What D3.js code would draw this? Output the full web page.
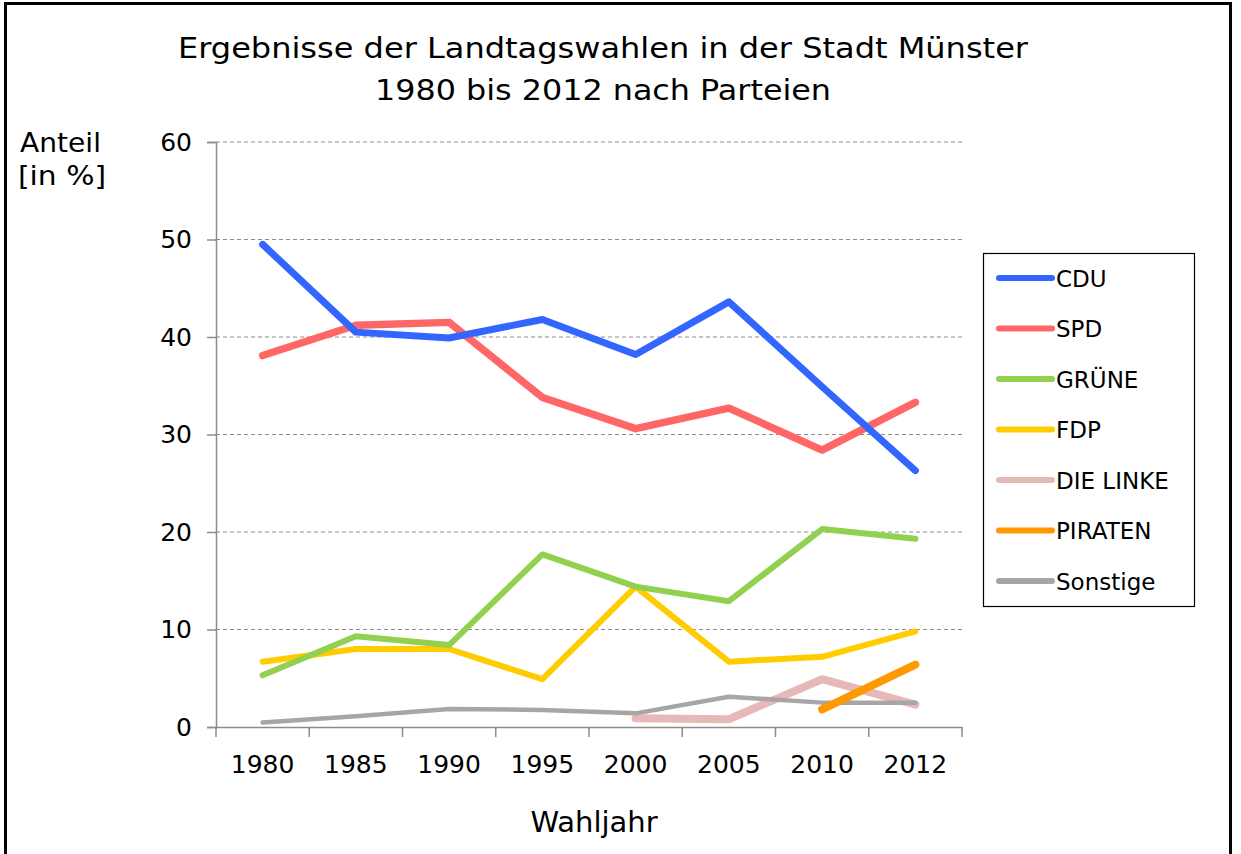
<!DOCTYPE html>
<html><head><meta charset="utf-8">
<script src="https://cdn.jsdelivr.net/npm/d3@7"></script>
<style>body{margin:0;background:#fff}svg{display:block}text{font-family:"DejaVu Sans",Verdana,sans-serif;fill:#000}</style>
</head><body>
<script>
const years = ["1980","1985","1990","1995","2000","2005","2010","2012"];
const cdu      = [49.5, 40.5, 39.9, 41.8, 38.2, 43.6, 34.9, 26.3];
const spd      = [38.1, 41.2, 41.5, 33.8, 30.6, 32.7, 28.4, 33.3];
const gruene   = [5.3, 9.3, 8.4, 17.7, 14.4, 12.9, 20.3, 19.3];
const fdp      = [6.7, 8.0, 8.0, 4.9, 14.4, 6.7, 7.2, 9.8];
const linke    = [null, null, null, null, 0.9, 0.8, 4.9, 2.3];
const piraten  = [null, null, null, null, null, null, 1.8, 6.4];
const sonstige = [0.45, 1.1, 1.85, 1.75, 1.4, 3.1, 2.5, 2.5];
const yTicks = [0, 10, 20, 30, 40, 50, 60];

const series = [
  {name:"CDU", values:cdu, color:"#3366ff", w:7},
  {name:"SPD", values:spd, color:"#ff6666", w:7.5},
  {name:"GRÜNE", values:gruene, color:"#92d050", w:6},
  {name:"FDP", values:fdp, color:"#ffcc00", w:6},
  {name:"DIE LINKE", values:linke, color:"#e6b9b8", w:8},
  {name:"PIRATEN", values:piraten, color:"#ff9900", w:8},
  {name:"Sonstige", values:sonstige, color:"#a6a6a6", w:4.5}
];

(function(){
const W = 1241, H = 854;
const svg = d3.select("body").append("svg").attr("width", W).attr("height", H);

// outer frame
svg.append("path").attr("d", `M5.5,${H} V3.5 H1230.5 V${H}`).attr("fill","none").attr("stroke","#000").attr("stroke-width",3);

const pL = 216, pR = 962, pT = 142, pB = 727;
const x = d3.scaleBand().domain(years).range([pL, pR]);
const y = d3.scaleLinear().domain([0, 60]).range([pB, pT]);

// title
svg.append("text").attr("x", 603).attr("y", 58).attr("text-anchor","middle").attr("font-size",29).attr("textLength",850).attr("lengthAdjust","spacingAndGlyphs").text("Ergebnisse der Landtagswahlen in der Stadt Münster");
svg.append("text").attr("x", 603).attr("y", 100).attr("text-anchor","middle").attr("font-size",29).attr("textLength",456).attr("lengthAdjust","spacingAndGlyphs").text("1980 bis 2012 nach Parteien");

// gridlines
svg.append("g").selectAll("line").data(yTicks.filter(d => d > 0)).join("line")
  .attr("x1", pL).attr("x2", pR).attr("y1", d => y(d)).attr("y2", d => y(d))
  .attr("stroke","#8c8c8c").attr("stroke-width",1).attr("stroke-dasharray","4,3");

// y axis
const yAxis = svg.append("g").attr("transform", `translate(${pL},0)`)
  .call(d3.axisLeft(y).tickValues(yTicks).tickSize(9).tickPadding(15));
yAxis.select(".domain").attr("stroke","#8c8c8c").attr("stroke-width",1.5);
yAxis.selectAll(".tick line").attr("stroke","#8c8c8c").attr("stroke-width",1.5);
yAxis.selectAll("text").attr("font-size",25).attr("font-family","DejaVu Sans, sans-serif").attr("fill","#000");

// x axis
const xAxis = svg.append("g").attr("transform", `translate(0,${pB})`)
  .call(d3.axisBottom(x).tickSize(0).tickPadding(28));
xAxis.select(".domain").attr("stroke","#8c8c8c").attr("stroke-width",1.5);
xAxis.selectAll("text").attr("font-size",25).attr("font-family","DejaVu Sans, sans-serif").attr("fill","#000");
svg.append("g").selectAll("line").data(years.concat(["end"])).join("line")
  .attr("x1", (d,i) => pL + i * x.step()).attr("x2", (d,i) => pL + i * x.step())
  .attr("y1", pB).attr("y2", pB + 10)
  .attr("stroke","#8c8c8c").attr("stroke-width",1.5);

// axis titles
svg.append("text").attr("x", 20).attr("y", 152).attr("font-size",27).attr("textLength",81).attr("lengthAdjust","spacingAndGlyphs").text("Anteil");
svg.append("text").attr("x", 18).attr("y", 185).attr("font-size",27).attr("textLength",88).attr("lengthAdjust","spacingAndGlyphs").text("[in %]");
svg.append("text").attr("x", 594).attr("y", 832).attr("text-anchor","middle").attr("font-size",29).text("Wahljahr");

// lines
const line = d3.line()
  .defined(d => d.v != null)
  .x(d => x(d.year) + x.bandwidth()/2)
  .y(d => y(d.v));
const order = [4, 6, 5, 3, 2, 1, 0];
svg.append("g").selectAll("path").data(order.map(i => series[i])).join("path")
  .attr("d", s => line(years.map((yr, i) => ({year: yr, v: s.values[i]}))))
  .attr("fill","none").attr("stroke", s => s.color).attr("stroke-width", s => s.w)
  .attr("stroke-linejoin","round").attr("stroke-linecap","round");

// legend
const lg = svg.append("g");
lg.append("rect").attr("x", 983.5).attr("y", 253.5).attr("width", 211).attr("height", 353)
  .attr("fill","#fff").attr("stroke","#000").attr("stroke-width",1.2);
const items = lg.selectAll("g.item").data(series).join("g").attr("class","item")
  .attr("transform", (d,i) => `translate(0,${278 + i*50.5})`);
items.append("line").attr("x1", 999).attr("x2", 1052).attr("y1",0).attr("y2",0)
  .attr("stroke", d => d.color).attr("stroke-width", 6).attr("stroke-linecap","round");
items.append("text").attr("x", 1056).attr("y", 8.5).attr("font-size",23).text(d => d.name);
})();
</script>
</body></html>
